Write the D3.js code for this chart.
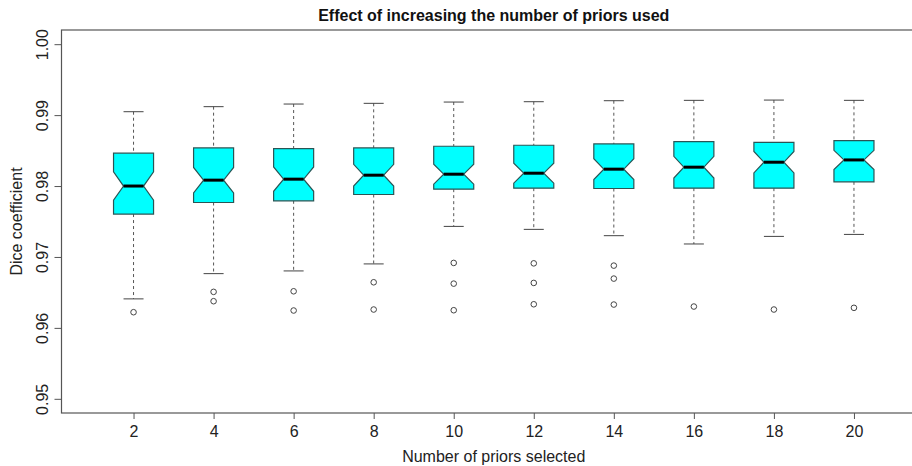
<!DOCTYPE html>
<html>
<head>
<meta charset="utf-8">
<script src="https://cdn.jsdelivr.net/npm/d3@7"></script>
<style>
  html, body { margin: 0; padding: 0; background: #fff; }
  svg { display: block; font-family: "Liberation Sans", Arial, sans-serif; }
</style>
</head>
<body>
<svg id="chart" width="912" height="466"></svg>
<script>
// values
const priors = [2, 4, 6, 8, 10, 12, 14, 16, 18, 20];
const upperWhisker = [0.99048, 0.99119, 0.99156, 0.99166, 0.99184, 0.99189, 0.99203, 0.99208, 0.99212, 0.99208];
const q3 = [0.98463, 0.98537, 0.98528, 0.98537, 0.98561, 0.98575, 0.98594, 0.98626, 0.98617, 0.98640];
const medians = [0.98000, 0.98083, 0.98097, 0.98153, 0.98167, 0.98181, 0.98238, 0.98266, 0.98336, 0.98368];
const q1 = [0.97605, 0.97768, 0.97792, 0.97881, 0.97956, 0.97970, 0.97965, 0.97970, 0.97970, 0.98059];
const lowerWhisker = [0.96409, 0.96765, 0.96803, 0.96902, 0.97431, 0.97389, 0.97300, 0.97183, 0.97290, 0.97318];
const outliers = [
  [0.96221],
  [0.96508, 0.96376],
  [0.96516, 0.96245],
  [0.96643, 0.96259],
  [0.96916, 0.96624, 0.96249],
  [0.96910, 0.96634, 0.96333],
  [0.96878, 0.96695, 0.96329],
  [0.96301],
  [0.96259],
  [0.96283]
];
const nObs = 46;
const yTicks = [0.95, 0.96, 0.97, 0.98, 0.99, 1.00];

const svg = d3.select('#chart');
const box = { left: 61.5, right: 926, top: 30, bottom: 413 };
const font = '"Liberation Sans", Arial, sans-serif';

const x = d3.scaleLinear().domain([0.1, priors.length + 0.9]).range([box.left, box.right]);
const y = d3.scaleLinear().domain([0.948, 1.002]).range([box.bottom, box.top]);
const unit = x(2) - x(1);
const hw = unit * 0.25;

const data = priors.map((p, i) => ({
  p, pos: i + 1,
  hi: upperWhisker[i], q3: q3[i], med: medians[i], q1: q1[i], lo: lowerWhisker[i],
  out: outliers[i],
  notch: 1.58 * (q3[i] - q1[i]) / Math.sqrt(nObs)
}));

// axes
const yAxis = svg.append('g')
  .attr('transform', `translate(${box.left},0)`)
  .call(d3.axisLeft(y).tickValues(yTicks).tickFormat(d3.format('.2f')).tickSize(7).tickPadding(0));
yAxis.select('.domain').remove();
yAxis.selectAll('line').attr('stroke', '#555');
yAxis.selectAll('text')
  .attr('transform', 'rotate(-90)')
  .attr('x', 0).attr('y', -19)
  .attr('dy', '0.35em')
  .attr('text-anchor', 'middle')
  .attr('font-size', 16)
  .attr('fill', '#222')
  .attr('font-family', font);

const xAxis = svg.append('g')
  .attr('transform', `translate(0,${box.bottom})`)
  .call(d3.axisBottom(x).tickValues(data.map(d => d.pos)).tickFormat((d, i) => priors[i]).tickSize(6).tickPadding(7));
xAxis.select('.domain').remove();
xAxis.selectAll('line').attr('stroke', '#555');
xAxis.selectAll('text')
  .attr('font-size', 16)
  .attr('fill', '#222')
  .attr('font-family', font);

// plot frame
svg.append('rect')
  .attr('x', box.left).attr('y', box.top)
  .attr('width', box.right - box.left).attr('height', box.bottom - box.top)
  .attr('fill', 'none').attr('stroke', '#555').attr('stroke-width', 1.2);

const g = svg.append('g');
const groups = g.selectAll('g.box').data(data).enter().append('g').attr('class', 'box');

// whiskers
groups.append('line')
  .attr('x1', d => x(d.pos)).attr('x2', d => x(d.pos))
  .attr('y1', d => y(d.hi)).attr('y2', d => y(d.q3))
  .attr('stroke', '#555').attr('stroke-dasharray', '3,3');
groups.append('line')
  .attr('x1', d => x(d.pos)).attr('x2', d => x(d.pos))
  .attr('y1', d => y(d.q1)).attr('y2', d => y(d.lo))
  .attr('stroke', '#555').attr('stroke-dasharray', '3,3');
groups.append('line')
  .attr('x1', d => x(d.pos) - hw / 2).attr('x2', d => x(d.pos) + hw / 2)
  .attr('y1', d => y(d.hi)).attr('y2', d => y(d.hi))
  .attr('stroke', '#444');
groups.append('line')
  .attr('x1', d => x(d.pos) - hw / 2).attr('x2', d => x(d.pos) + hw / 2)
  .attr('y1', d => y(d.lo)).attr('y2', d => y(d.lo))
  .attr('stroke', '#444');

// notched boxes
const line = d3.line();
groups.append('path')
  .attr('d', d => {
    const c = x(d.pos);
    return line([
      [c - hw, y(d.q3)], [c + hw, y(d.q3)],
      [c + hw, y(d.med + d.notch)], [c + hw / 2, y(d.med)], [c + hw, y(d.med - d.notch)],
      [c + hw, y(d.q1)], [c - hw, y(d.q1)],
      [c - hw, y(d.med - d.notch)], [c - hw / 2, y(d.med)], [c - hw, y(d.med + d.notch)]
    ]) + 'Z';
  })
  .attr('fill', '#00ffff')
  .attr('stroke', '#2a5555')
  .attr('stroke-width', 1.2);

groups.append('line')
  .attr('x1', d => x(d.pos) - hw / 2).attr('x2', d => x(d.pos) + hw / 2)
  .attr('y1', d => y(d.med)).attr('y2', d => y(d.med))
  .attr('stroke', '#000').attr('stroke-width', 3);

// outliers
groups.selectAll('circle')
  .data(d => d.out.map(v => ({ pos: d.pos, v })))
  .enter()
  .append('circle')
  .attr('cx', d => x(d.pos))
  .attr('cy', d => y(d.v))
  .attr('r', 2.8)
  .attr('fill', 'none')
  .attr('stroke', '#444');

// titles
const cx = (box.left + box.right) / 2;
svg.append('text')
  .attr('x', cx).attr('y', 21)
  .attr('text-anchor', 'middle')
  .attr('font-size', 16).attr('font-weight', 'bold').attr('fill', '#111')
  .text('Effect of increasing the number of priors used');
svg.append('text')
  .attr('x', cx).attr('y', 462)
  .attr('text-anchor', 'middle')
  .attr('font-size', 16).attr('fill', '#222')
  .text('Number of priors selected');
svg.append('text')
  .attr('transform', `translate(22,${(box.top + box.bottom) / 2}) rotate(-90)`)
  .attr('text-anchor', 'middle')
  .attr('font-size', 16).attr('fill', '#222')
  .text('Dice coefficient');
</script>
</body>
</html>
